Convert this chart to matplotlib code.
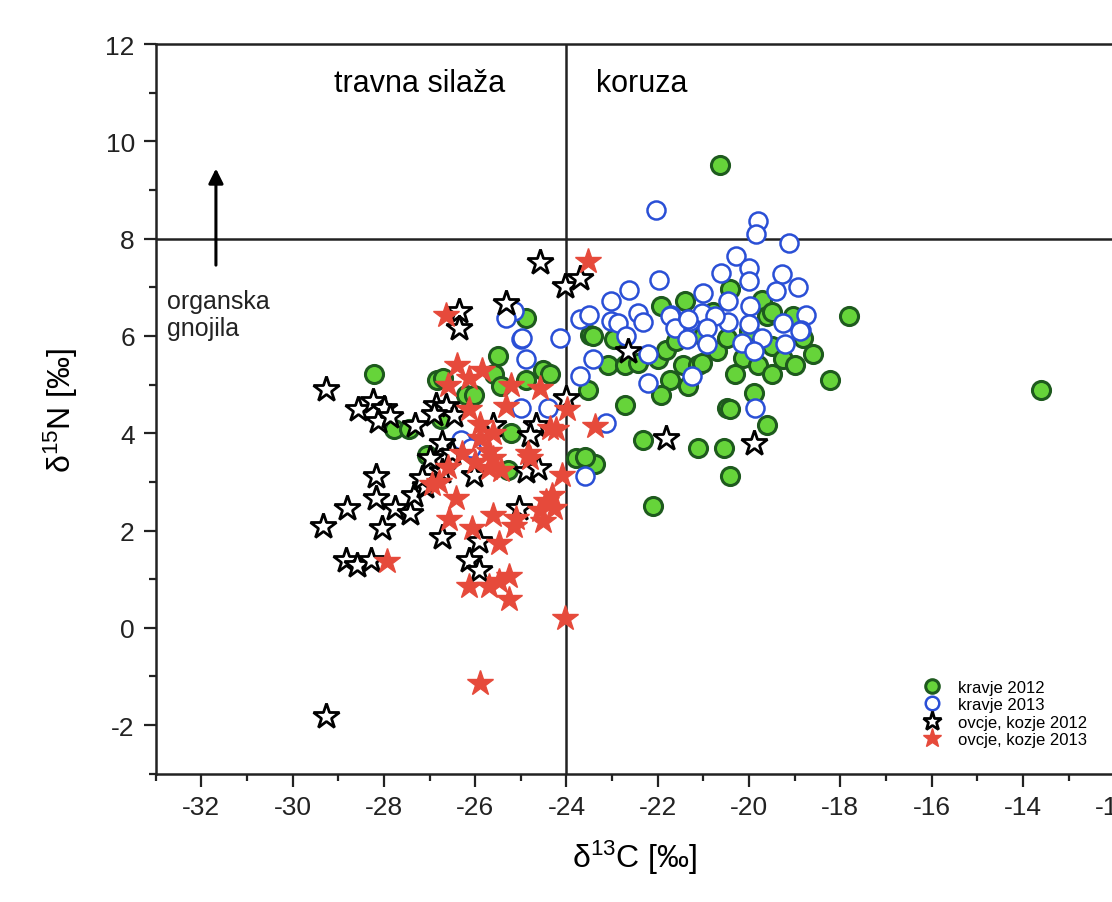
import matplotlib
matplotlib.use("Agg")
import matplotlib.pyplot as plt
from matplotlib.ticker import MultipleLocator

plt.rcParams['font.family'] = ['Liberation Sans', 'DejaVu Sans']
plt.rcParams['mathtext.default'] = 'regular'
plt.rcParams['axes.unicode_minus'] = False

# kravje 2012 (green filled circles)
cow12_x = [-28.22, -27.78, -27.45, -26.83, -26.76, -27.05, -26.70, -26.20, -26.02, -25.58,
           -25.44, -25.51, -24.89, -24.52, -24.37, -24.89, -25.22, -25.29, -23.79, -23.57,
           -23.38, -23.60, -23.49, -23.42, -22.95, -23.09, -22.72, -22.43, -21.99, -21.81,
           -21.44, -21.11, -20.71, -23.53, -21.74, -21.92, -21.33, -22.72, -20.49, -22.32,
           -21.11, -20.56, -21.92, -21.41, -20.42, -19.72, -19.61, -19.03, -17.82, -18.81,
           -19.50, -21.04, -20.13, -19.80, -19.25, -19.00, -18.60, -20.31, -19.50, -18.22,
           -19.90, -20.42, -19.61, -20.42, -22.10, -20.64, -13.60, -20.49, -21.00, -20.80,
           -21.60, -20.00, -19.50]
cow12_y = [5.21, 4.08, 4.08, 5.10, 4.29, 3.56, 5.14, 4.79, 4.79, 5.21,
           4.97, 5.59, 6.37, 5.31, 5.21, 5.10, 4.00, 3.25, 3.49, 3.49,
           3.37, 3.51, 6.03, 6.00, 5.93, 5.41, 5.41, 5.45, 5.52, 5.72,
           5.41, 5.41, 5.69, 4.90, 5.10, 4.79, 4.97, 4.59, 4.52, 3.87,
           3.70, 3.70, 6.62, 6.72, 6.96, 6.75, 6.41, 6.41, 6.41, 5.96,
           5.79, 5.45, 5.55, 5.41, 5.52, 5.41, 5.62, 5.21, 5.21, 5.10,
           4.83, 4.49, 4.18, 3.12, 2.50, 9.52, 4.89, 5.96, 6.00, 6.50,
           5.90, 6.10, 6.50]

# kravje 2013 (blue open circles)
cow13_x = [-22.03, -19.80, -19.85, -19.13, -20.29, -20.62, -20.00, -21.98, -20.00, -19.28,
           -18.92, -19.42, -22.62, -23.02, -21.00, -22.43, -22.33, -23.71, -23.50, -23.02,
           -22.87, -21.70, -21.30, -21.03, -20.46, -19.98, -18.75, -19.25, -18.87, -24.15,
           -21.74, -21.63, -21.33, -20.75, -20.93, -21.37, -20.93, -22.69, -22.21, -23.42,
           -23.71, -22.21, -21.26, -23.13, -23.60, -19.86, -20.46, -20.01, -18.88, -19.72,
           -20.16, -19.21, -19.90, -25.14, -25.33, -25.00, -24.89, -25.00, -24.41, -26.32,
           -26.09, -24.97]
cow13_y = [8.59, 8.36, 8.09, 7.92, 7.64, 7.30, 7.40, 7.15, 7.13, 7.27,
           7.00, 6.92, 6.94, 6.72, 6.89, 6.48, 6.29, 6.34, 6.43, 6.31,
           6.27, 6.43, 6.31, 6.48, 6.28, 6.62, 6.44, 6.27, 6.13, 5.96,
           6.41, 6.17, 6.34, 6.41, 6.17, 5.93, 5.83, 6.00, 5.62, 5.52,
           5.17, 5.04, 5.17, 4.21, 3.12, 4.52, 6.72, 6.24, 6.10, 5.96,
           5.86, 5.83, 5.69, 6.51, 6.37, 5.93, 5.52, 4.52, 4.52, 3.87,
           3.70, 5.96]

# ovcje, kozje 2012 (black open stars)
sheep12_x = [-24.59, -24.04, -23.71, -26.35, -26.35, -25.33, -29.26, -28.57, -28.24, -27.99,
             -28.13, -27.87, -27.32, -26.86, -26.72, -28.18, -26.64, -26.46, -25.62, -24.67,
             -24.81, -24.89, -24.63, -26.02, -24.00, -22.65, -21.81, -19.90, -28.80, -28.18,
             -27.75, -27.42, -27.35, -27.10, -29.33, -28.04, -26.72, -28.84, -28.58, -28.29,
             -25.91, -26.13, -25.91, -25.03, -26.72, -27.17, -29.27, -26.90, -27.00, -26.50]
sheep12_y = [7.52, 7.03, 7.20, 6.52, 6.17, 6.68, 4.92, 4.49, 4.66, 4.52,
             4.25, 4.35, 4.18, 4.59, 3.80, 3.12, 4.56, 4.38, 4.18, 4.18,
             3.97, 3.22, 3.29, 3.15, 4.73, 5.69, 3.90, 3.80, 2.46, 2.67,
             2.46, 2.36, 2.74, 2.91, 2.10, 2.06, 1.86, 1.40, 1.30, 1.40,
             1.79, 1.40, 1.19, 2.46, 3.22, 3.08, -1.81, 4.40, 3.50, 3.60]

# ovcje, kozje 2013 (red filled stars)
sheep13_x = [-23.53, -26.65, -26.39, -26.13, -25.84, -26.60, -25.22, -24.59, -23.98, -25.33,
             -26.13, -25.62, -24.37, -24.23, -25.69, -24.85, -25.69, -25.44, -23.38, -24.81,
             -24.09, -24.31, -24.59, -27.93, -26.94, -26.42, -26.57, -25.62, -26.06, -25.47,
             -25.14, -25.10, -24.52, -24.45, -24.27, -26.13, -25.69, -25.47, -25.25, -25.25,
             -24.04, -25.89, -26.30, -25.90, -25.60, -26.60, -26.00, -25.90, -26.80]
sheep13_y = [7.54, 6.44, 5.41, 5.14, 5.31, 5.00, 5.00, 4.93, 4.49, 4.56,
             4.49, 4.00, 4.11, 4.08, 3.63, 3.60, 3.29, 3.25, 4.15, 3.50,
             3.15, 2.73, 2.42, 1.37, 2.95, 2.67, 2.23, 2.33, 2.06, 1.74,
             2.10, 2.25, 2.20, 2.61, 2.47, 0.87, 0.87, 0.97, 1.07, 0.59,
             0.21, -1.14, 3.60, 3.90, 3.50, 3.30, 3.40, 4.20, 3.00]

fig = plt.figure(figsize=(11.12, 9.03), dpi=100)
ax = fig.add_axes([0.140, 0.142, 0.862, 0.808])

ax.plot(cow12_x, cow12_y, 'o', ms=13, mfc='#66d43a', mec='#1e5a1e', mew=2.2,
        ls='none', label='kravje 2012')
ax.plot(cow13_x, cow13_y, 'o', ms=13, mfc='white', mec='#2a4fd6', mew=1.8,
        ls='none', label='kravje 2013')
ax.plot(sheep12_x, sheep12_y, '*', ms=19, mfc='white', mec='black', mew=2.0,
        ls='none', label='ovcje, kozje 2012')
ax.plot(sheep13_x, sheep13_y, '*', ms=19, mfc='#e64a3b', mec='#e64a3b', mew=1.0,
        ls='none', label='ovcje, kozje 2013')

ax.axvline(-24, color='#222222', lw=1.8, zorder=1)
ax.axhline(8, color='#222222', lw=1.8, zorder=1)

ax.text(-29.1, 11.2, 'travna silaža', fontsize=22, va='center', ha='left')
ax.text(-23.35, 11.2, 'koruza', fontsize=22, va='center', ha='left')
ax.annotate('', xy=(-31.68, 9.5), xytext=(-31.68, 7.4),
            arrowprops=dict(arrowstyle='-|>', color='black', lw=2.2, mutation_scale=22))
ax.text(-32.75, 6.45, 'organska\ngnojila', fontsize=18, va='center', ha='left',
        linespacing=1.15, color='#222222')

ax.set_xlim(-33, -12)
ax.set_ylim(-3, 12)
ax.xaxis.set_major_locator(MultipleLocator(2))
ax.xaxis.set_minor_locator(MultipleLocator(1))
ax.yaxis.set_major_locator(MultipleLocator(2))
ax.yaxis.set_minor_locator(MultipleLocator(1))
ax.tick_params(which='both', direction='out', width=1.6, colors='#222222',
               top=False, right=False)
ax.tick_params(which='major', length=9, labelsize=19, pad=6)
ax.tick_params(which='minor', length=5)
for s in ax.spines.values():
    s.set_linewidth(1.8)
    s.set_color('#222222')

ax.set_xlabel(r'$\delta^{13}$C [‰]', fontsize=23, labelpad=14)
ax.set_ylabel(r'$\delta^{15}$N [‰]', fontsize=23, labelpad=18)

ax.legend(loc='lower right', bbox_to_anchor=(1.0, 0.0), frameon=False, fontsize=12,
          handletextpad=0.6, labelspacing=0.15, markerscale=0.75, borderaxespad=1.2)

fig.savefig('out.png', dpi=100)
